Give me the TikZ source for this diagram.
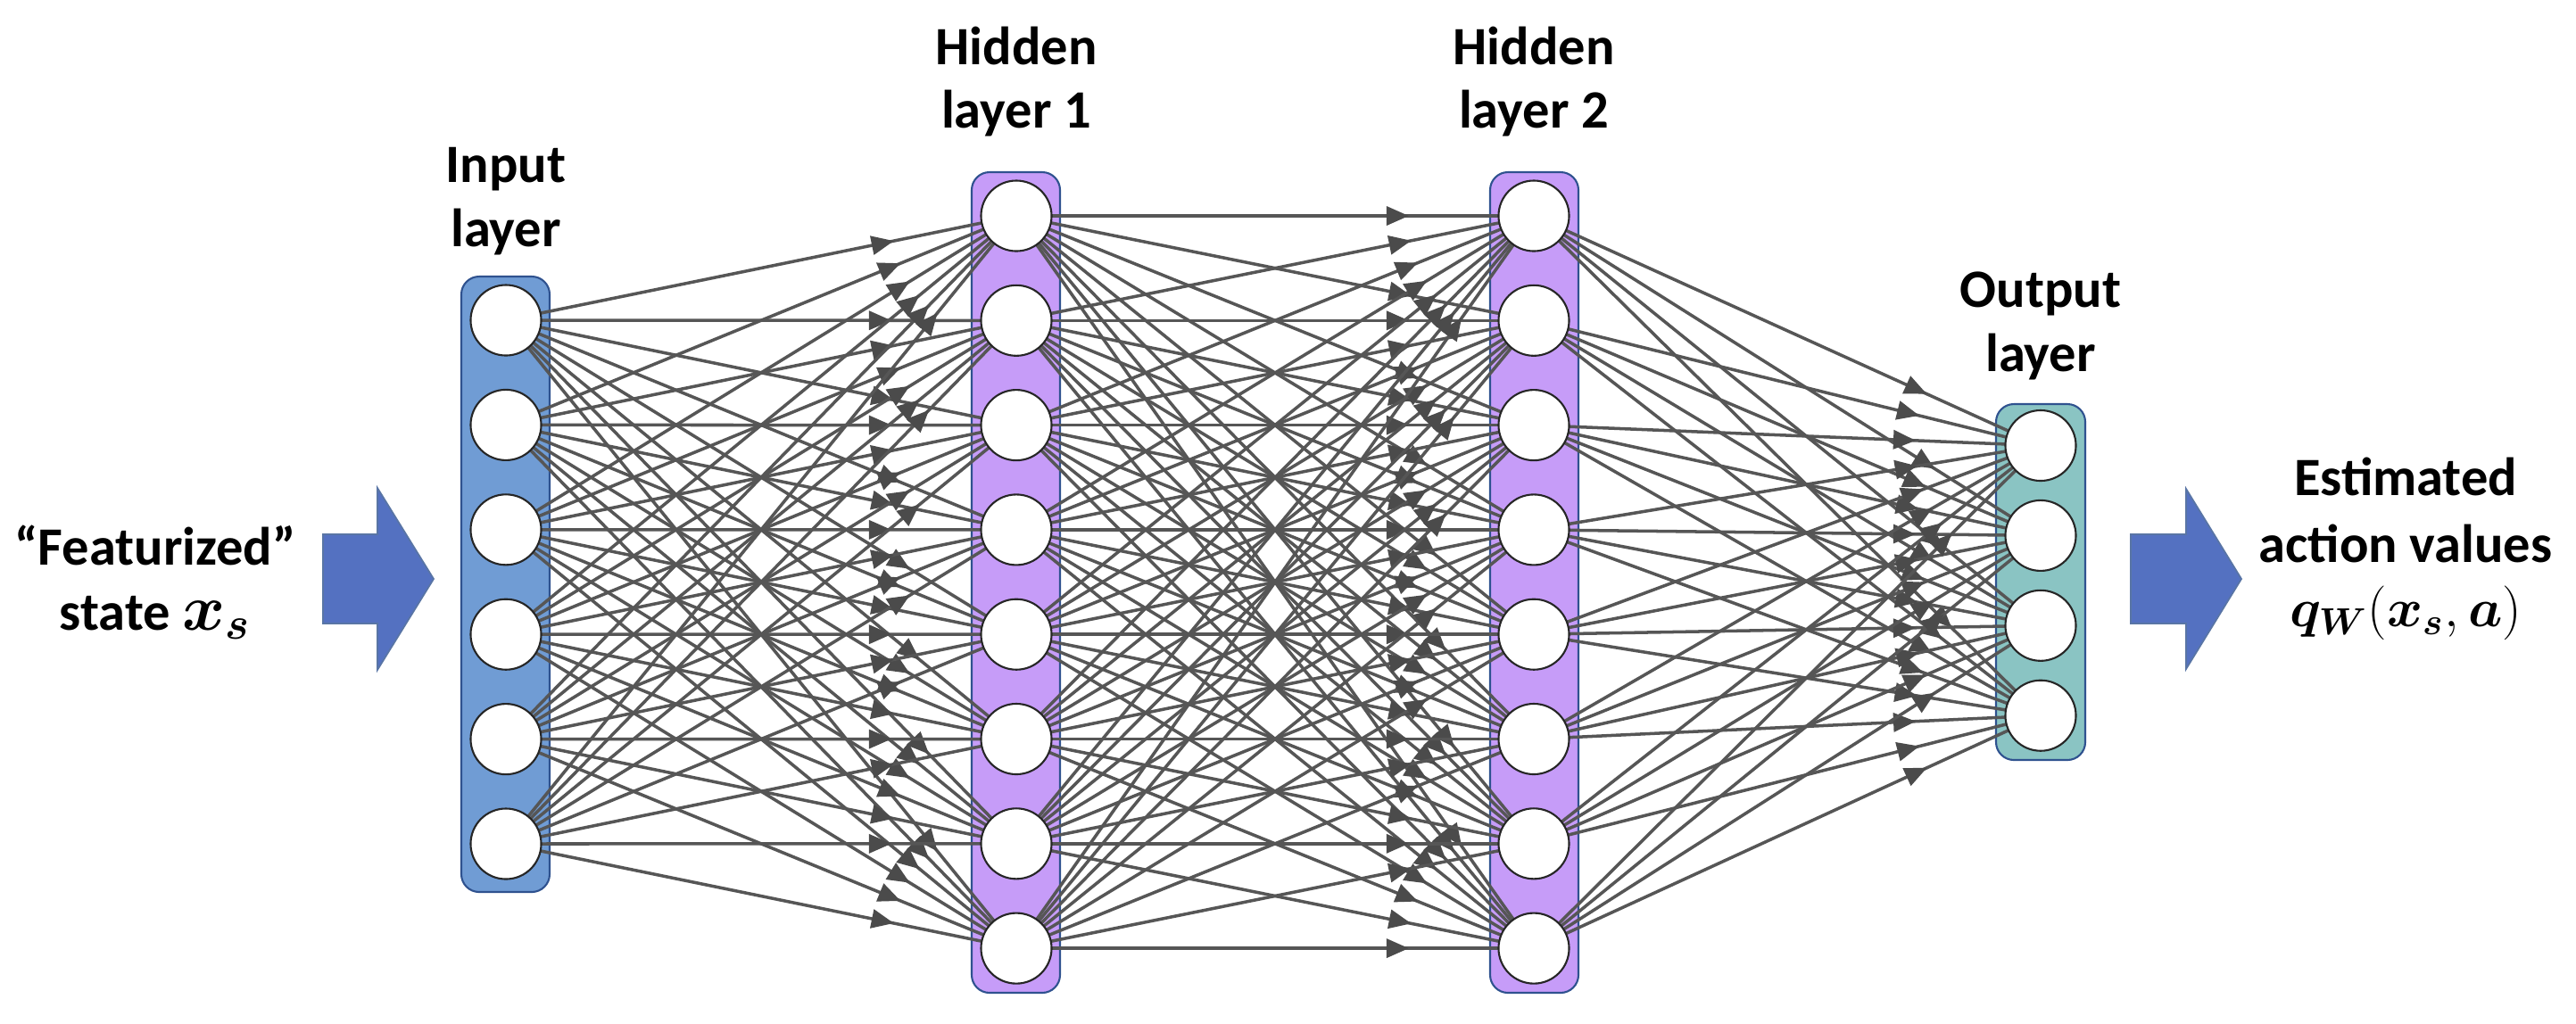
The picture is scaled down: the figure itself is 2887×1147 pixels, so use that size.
\documentclass[tikz,border=0pt]{standalone}
\usepackage[no-math]{fontspec}
\setmainfont{Carlito}
\usepackage{bm}
\usetikzlibrary{arrows.meta,decorations.markings,backgrounds}

\definecolor{inbox}{RGB}{112,156,212}
\definecolor{hidbox}{RGB}{198,156,248}
\definecolor{outbox}{RGB}{138,196,195}
\definecolor{boxline}{RGB}{47,82,143}
\definecolor{edgecol}{RGB}{86,86,86}
\definecolor{tipcol}{RGB}{75,75,75}
\definecolor{bigarrow}{RGB}{84,113,193}

\begin{document}
\begin{tikzpicture}[x=0.01cm,y=-0.01cm,
  layerbox/.style={draw=boxline, line width=0.6pt, rounded corners=0.2cm},
  neuron/.style={circle, draw=black!85, line width=0.6pt, fill=white, minimum size=0.79cm, inner sep=0pt},
  conn/.style={draw=edgecol, line width=1pt, postaction={decorate},
    decoration={markings, mark=at position -1.4cm with {\arrow[tipcol]{Triangle[length=0.25cm,width=0.21cm]}}}},
  lbl/.style={font=\fontsize{17.2}{20.5}\selectfont\bfseries, anchor=base, inner sep=0pt},
  blockarrow/.style={fill=bigarrow, draw=boxline!80, line width=0.5pt, line join=miter}
]
\useasboundingbox (0,0) rectangle (2887,1147);

% neurons
\foreach \i in {1,...,6} \node[neuron] (I\i) at (567,{359+(\i-1)*117.4}) {};
\foreach \j in {1,...,8} {
  \node[neuron] (A\j) at (1139,{242+(\j-1)*117.3}) {};
  \node[neuron] (B\j) at (1719,{242+(\j-1)*117.3}) {};
}
\foreach \k in {1,...,4} \node[neuron] (O\k) at (2287,{499.5+(\k-1)*100.9}) {};

\begin{pgfonlayer}{background}
  \draw[layerbox, fill=inbox]  (517,310) rectangle (616,1000);
  \draw[layerbox, fill=hidbox] (1089,193) rectangle (1188,1113);
  \draw[layerbox, fill=hidbox] (1670,193) rectangle (1769,1113);
  \draw[layerbox, fill=outbox] (2237,453) rectangle (2337,852);
  \foreach \i in {1,...,6} \foreach \j in {1,...,8} \draw[conn] (I\i.center) -- (A\j.center);
  \foreach \i in {1,...,8} \foreach \j in {1,...,8} \draw[conn] (A\i.center) -- (B\j.center);
  \foreach \i in {1,...,8} \foreach \j in {1,...,4} \draw[conn] (B\i.center) -- (O\j.center);
\end{pgfonlayer}

% big block arrows
\draw[blockarrow] (362,599) -- (423,599) -- (423,547) -- (486,649) -- (423,751) -- (423,699) -- (362,699) -- cycle;
\draw[blockarrow] (2388,599) -- (2450,599) -- (2450,548) -- (2512,649) -- (2450,750) -- (2450,699) -- (2388,699) -- cycle;

% labels
\node[lbl] (inl1) at (567,204) {Input};
\node[lbl] (inl2) at (567,276) {layer};
\node[lbl] (h1l1) at (1139,72) {Hidden};
\node[lbl] (h1l2) at (1139,143) {layer 1};
\node[lbl] (h2l1) at (1719,72) {Hidden};
\node[lbl] (h2l2) at (1719,143) {layer 2};
\node[lbl] (outl1) at (2287,344) {Output};
\node[lbl] (outl2) at (2287,416) {layer};
\node[lbl] (st1) at (174,633) {“Featurized”};
\node[lbl] (st2) at (174,706) {state {\fontsize{20}{20}\selectfont$\bm{x_s}$}};
\node[lbl] (av1) at (2696,555) {Estimated};
\node[lbl] (av2) at (2696,630) {action values};
\node[lbl] (av3) at (2696,702) {\fontsize{18.5}{20}\selectfont$\bm{q_W}(\bm{x_s},\bm{a})$};
\end{tikzpicture}
\end{document}
